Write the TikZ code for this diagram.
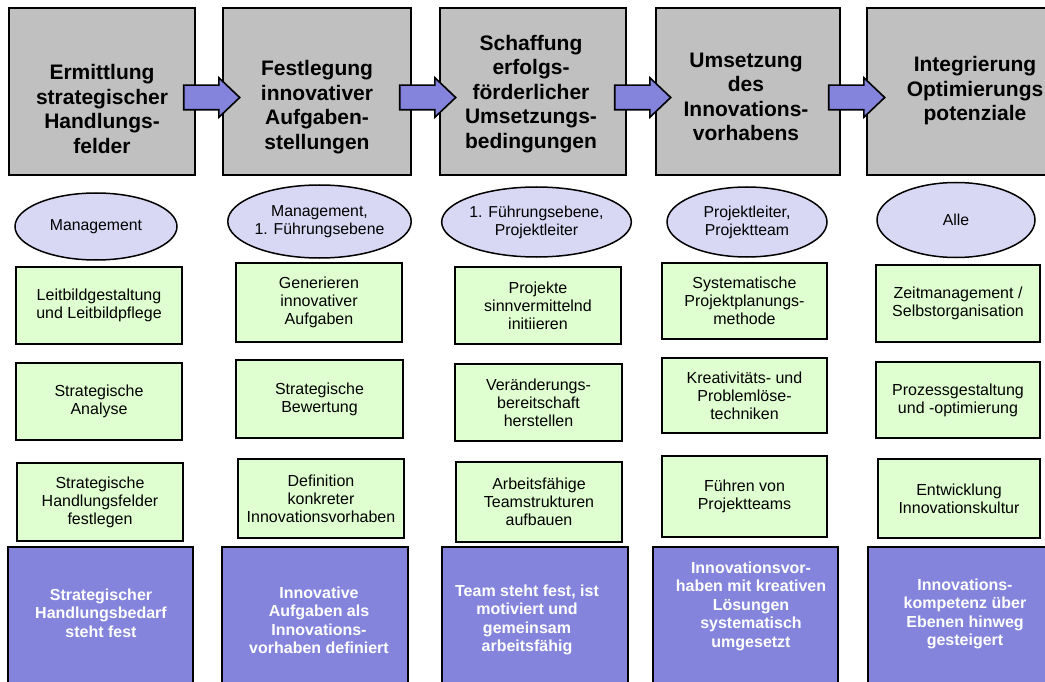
\documentclass[tikz,border=0pt]{standalone}
\usepackage{fontspec}
\setmainfont{Liberation Sans}
\usetikzlibrary{shapes.geometric,shapes.arrows,calc}
\definecolor{phasegray}{RGB}{192,192,192}
\definecolor{rolelavender}{RGB}{216,216,245}
\definecolor{taskgreen}{RGB}{224,255,208}
\definecolor{goalpurple}{RGB}{132,132,221}

\begin{document}
\begin{tikzpicture}[x=1bp,y=-1bp,
  phase/.style={draw, line width=1.8bp, fill=phasegray, minimum height=167bp, inner sep=0},
  phasetext/.style={font=\fontsize{21bp}{24.5bp}\selectfont\bfseries, align=center, inner sep=0},
  flow/.style={single arrow, draw, line width=1.6bp, fill=goalpurple, minimum height=56bp,
    inner xsep=0, inner ysep=11.5bp, single arrow head extend=7.5bp, single arrow tip angle=87,
    anchor=tail},
  role/.style={ellipse, draw, line width=1.5bp, fill=rolelavender, inner sep=0, align=center,
    font=\fontsize{15.8bp}{18bp}\selectfont},
  task/.style={draw, line width=1.8bp, fill=taskgreen, align=center, inner sep=0,
    font=\fontsize{16bp}{18bp}\selectfont},
  goal/.style={draw, line width=1.8bp, fill=goalpurple, minimum height=153bp, inner sep=0},
  goaltext/.style={text=white, align=center, inner sep=0,
    font=\fontsize{16bp}{18.5bp}\selectfont\bfseries}]
\useasboundingbox (0,0) rectangle (1045,682);
\clip (0,0) rectangle (1045,682);
% Phases
\node[phase, minimum width=186bp] (p1) at (102,91.5) {};
\node[phase, minimum width=188bp] (p2) at (317,91.5) {};
\node[phase, minimum width=186bp] (p3) at (533,91.5) {};
\node[phase, minimum width=184bp] (p4) at (748,91.5) {};
\node[phase, minimum width=218bp] (p5) at (976,91.5) {};
\node[phasetext] (p1t) at (102,109) {Ermittlung\\strategischer\\Handlungs-\\felder};
\node[phasetext] (p2t) at (317,107) {Festlegung\\innovativer\\Aufgaben-\\stellungen};
\node[phasetext] (p3t) at (531,94) {Schaffung\\erfolgs-\\förderlicher\\Umsetzungs-\\bedingungen};
\node[phasetext] (p4t) at (746,97) {Umsetzung\\des\\Innovations-\\vorhabens};
\node[phasetext] (p5t) at (975,91) {Integrierung\\Optimierungs\\potenziale};
% Arrows between phases
\foreach \a/\b in {p1/p2, p2/p3, p3/p4, p4/p5} {
  \node[flow] (\a\b) at ($(\a.east)+(-13,6)$) {};
}
% Roles
\node[role, minimum width=162bp, minimum height=67bp] (r1) at (96,226.5) {Management};
\node[role, minimum width=165bp, minimum height=73bp] (r2) at (319.5,221.5) {Management,\\1. Führungsebene};
\node[role, minimum width=161bp, minimum height=70bp] (r3) at (536.5,222) {1. Führungsebene,\\Projektleiter};
\node[role, minimum width=160bp, minimum height=70bp] (r4) at (747,222) {Projektleiter,\\Projektteam};
\node[role, minimum width=158bp, minimum height=75bp] (r5) at (956,220) {Alle};
% Tasks
\foreach \n/\x/\y/\w/\h/\t in {
    t11/99/305.5/166/77/{Leitbildgestaltung\\und Leitbildpflege},
    t12/99/401.5/166/77/{Strategische\\Analyse},
    t13/100/502/166/78/{Strategische\\Handlungsfelder\\festlegen},
    t21/319/302.5/166/79/{Generieren\\innovativer\\Aufgaben},
    t22/319.5/399/167/78/{Strategische\\Bewertung},
    t23/321/498.5/166/79/{Definition\\konkreter\\Innovationsvorhaben},
    t31/538/305.5/166/77/{Projekte\\sinnvermittelnd\\initiieren},
    t32/538.5/402.5/167/77/{Veränderungs-\\bereitschaft\\herstellen},
    t33/539/502/166/80/{Arbeitsfähige\\Teamstrukturen\\aufbauen},
    t41/744.5/301/165/76/{Systematische\\Projektplanungs-\\methode},
    t42/744.5/395.5/165/75/{Kreativitäts- und\\Problemlöse-\\techniken},
    t43/744.5/496.5/165/81/{Führen von\\Projektteams},
    t51/958/303.5/164/77/{Zeitmanagement /\\Selbstorganisation},
    t52/958/400/164/76/{Prozessgestaltung\\und -optimierung},
    t53/959/498.5/162/79/{Entwicklung\\Innovationskultur}} {
  \node[task, minimum width=\w bp, minimum height=\h bp] (\n) at (\x,\y) {\t};
}
% Results
\node[goal, minimum width=185bp] (g1) at (100.5,623.5) {};
\node[goal, minimum width=186bp] (g2) at (315,623.5) {};
\node[goal, minimum width=186bp] (g3) at (535,623.5) {};
\node[goal, minimum width=185bp] (g4) at (745.5,623.5) {};
\node[goal, minimum width=217bp] (g5) at (976.5,623.5) {};
\node[goaltext] (g1t) at (101,613) {Strategischer\\Handlungsbedarf\\steht fest};
\node[goaltext] (g2t) at (319,620.5) {Innovative\\Aufgaben als\\Innovations-\\vorhaben definiert};
\node[goaltext] (g3t) at (527,620) {Team steht fest, ist\\motiviert und\\gemeinsam\\arbeitsfähig};
\node[goaltext] (g4t) at (751,606) {Innovationsvor-\\haben mit kreativen\\Lösungen\\systematisch\\umgesetzt};
\node[goaltext] (g5t) at (965,614) {Innovations-\\kompetenz über\\Ebenen hinweg\\gesteigert};
\end{tikzpicture}
\end{document}
